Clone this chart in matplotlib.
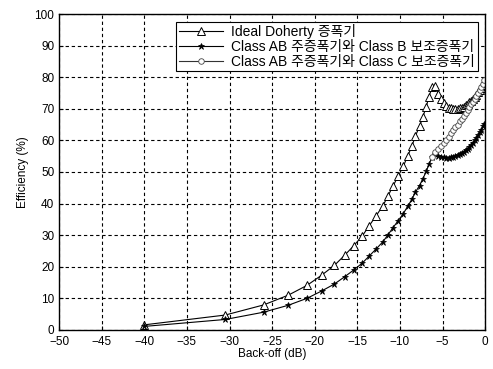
import numpy as np
import matplotlib
matplotlib.use('Agg')
import matplotlib.pyplot as plt

plt.rcParams['font.family'] = ['Liberation Sans', 'Noto Sans CJK KR', 'DejaVu Sans']

# back-off points (dB), low region and high region
backoff_low = [-40.0, -30.5, -26.0, -23.1, -20.9, -19.2, -17.7, -16.5, -15.4, -14.4,
               -13.6, -12.8, -12.0, -11.4, -10.8, -10.2, -9.6, -9.1, -8.6, -8.2,
               -7.7, -7.3, -6.9, -6.6, -6.2]
backoff_high = [-5.85, -5.51, -5.19, -4.88, -4.58, -4.29, -4.01, -3.74, -3.48, -3.23,
                -2.98, -2.74, -2.50, -2.28, -2.05, -1.84, -1.62, -1.42, -1.22, -1.02,
                -0.83, -0.64, -0.46, -0.27, -0.09]

ideal_low = [1.6, 4.7, 7.9, 11.0, 14.1, 17.3, 20.4, 23.6, 26.7, 29.8,
             33.0, 36.1, 39.3, 42.4, 45.6, 48.7, 51.8, 55.0, 58.1, 61.3,
             64.4, 67.5, 70.7, 73.8, 77.0]
ideal_high = [77.1, 74.8, 73.1, 71.9, 71.0, 70.4, 70.1, 69.9, 69.8, 69.9,
              70.1, 70.3, 70.7, 71.1, 71.6, 72.1, 72.6, 73.2, 73.8, 74.5,
              75.2, 75.9, 76.6, 77.4, 78.1]

ab_low = [1.1, 3.3, 5.6, 7.8, 10.0, 12.3, 14.5, 16.8, 19.0, 21.2,
          23.4, 25.6, 27.9, 30.1, 32.4, 34.6, 36.8, 39.1, 41.3, 43.5,
          45.7, 47.9, 50.2, 52.4, 54.7]
abb_high = [55.8, 55.2, 54.8, 54.6, 54.5, 54.5, 54.6, 54.8, 55.0, 55.3,
            55.6, 56.0, 56.4, 56.9, 57.4, 58.0, 58.6, 59.3, 60.0, 60.8,
            61.6, 62.5, 63.4, 64.4, 65.3]
abc_high = [56.3, 57.2, 58.2, 59.2, 60.2, 61.2, 62.2, 63.2, 64.1, 65.0,
            66.0, 66.9, 67.8, 68.7, 69.6, 70.5, 71.4, 72.3, 73.2, 74.1,
            75.0, 76.0, 77.0, 78.0, 79.0]

labels = ['Ideal Doherty 증폭기',
          'Class AB 주증폭기와 Class B 보조증폭기',
          'Class AB 주증폭기와 Class C 보조증폭기']

fig = plt.figure(figsize=(4.93, 3.69), dpi=100)
ax = fig.add_axes([0.12, 0.106, 0.864, 0.856])

ax.plot(backoff_low + backoff_high, ideal_low + ideal_high, color='black', lw=0.8,
        marker='^', markersize=6, markerfacecolor='white', markeredgecolor='black',
        markeredgewidth=0.7, label=labels[0])
ax.plot(backoff_low + backoff_high, ab_low + abb_high, color='black', lw=0.8,
        marker='*', markersize=5, markeredgewidth=0.5, label=labels[1])
ax.plot([backoff_low[-1]] + backoff_high, [ab_low[-1]] + abc_high, color='#333333', lw=0.8,
        marker='o', markersize=4, markerfacecolor='white', markeredgecolor='#444444',
        markeredgewidth=0.6, label=labels[2])

ax.set_xlim(-50, 0)
ax.set_ylim(0, 100)
ax.set_xticks(np.arange(-50, 1, 5))
ax.set_yticks(np.arange(0, 101, 10))
ax.tick_params(labelsize=8.5, direction='in', length=3, width=0.8)
ax.tick_params(axis='x', pad=4.5)
ax.grid(True, color='black', linestyle=(0, (3, 2.5)), linewidth=0.8)
for s in ax.spines.values():
    s.set_linewidth(1.0)
ax.set_xlabel('Back-off (dB)', fontsize=8.5, labelpad=0)
ax.set_ylabel('Efficiency (%)', fontsize=8.5, labelpad=4)

leg = ax.legend(loc='upper right', bbox_to_anchor=(0.99, 0.985), fontsize=10,
                frameon=True, fancybox=False, framealpha=1, edgecolor='black',
                borderpad=0.2, labelspacing=0.05, handlelength=3.2,
                handletextpad=0.6, borderaxespad=0.2)
leg.get_frame().set_linewidth(0.8)

fig.savefig('out.png', dpi=100)
